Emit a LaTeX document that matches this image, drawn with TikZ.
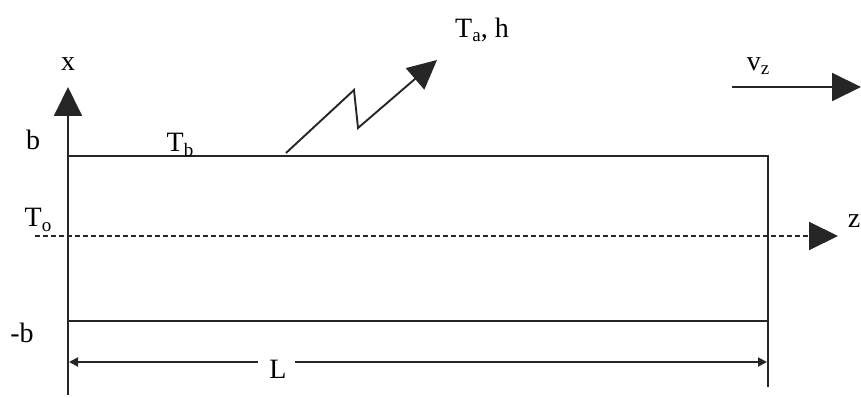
\documentclass[tikz,border=0pt]{standalone}
\usepackage{fontspec}
\setmainfont{Liberation Serif}
\usetikzlibrary{arrows.meta}
\newcommand{\lowsub}[1]{\raisebox{-0.35ex}{\fontsize{19}{19}\selectfont #1}}
\begin{document}
\begin{tikzpicture}[x=1pt,y=-1pt,
  line/.style={line width=1.9pt,black!85},
  bigtip/.style={-{Triangle[length=29pt,width=28pt]}},
  smalltip/.style={-{Triangle[length=9pt,width=9pt]}},
  lbl/.style={inner sep=0pt,font=\fontsize{28}{31}\selectfont}]
\useasboundingbox[fill=white] (0,0) rectangle (861,398);
% corners
\coordinate (tl) at (68,156);
\coordinate (tr) at (768,156);
\coordinate (bl) at (68,321);
\coordinate (br) at (768,321);
\coordinate (axbot) at (68,395);
\coordinate (axtop) at (68,87);
\coordinate (rbot) at (768,387);
% walls
\draw[line] (tl) -- (tr) -- (rbot);
\draw[line] (bl) -- (br);
\draw[line,bigtip] (axbot) -- (axtop);
% center dashed axis
\coordinate (cs) at (35,236);
\coordinate (ce) at (838,236);
\draw[line,dash pattern=on 5pt off 3pt,bigtip] (cs) -- (ce);
% heat flux zigzag
\coordinate (z0) at (286,153);
\coordinate (z1) at (354,90);
\coordinate (z2) at (358,128);
\coordinate (z3) at (437,60);
\draw[line,bigtip] (z0) -- (z1) -- (z2) -- (z3);
% velocity arrow
\coordinate (v0) at (732,87);
\coordinate (v1) at (861,87);
\draw[line,bigtip] (v0) -- (v1);
% dimension L
\node[lbl] (L) at (278,369) {L};
\coordinate (la) at (258,362);
\coordinate (lb) at (69,362);
\coordinate (ra) at (295,362);
\coordinate (rb) at (767,362);
\draw[line,smalltip] (la) -- (lb);
\draw[line,smalltip] (ra) -- (rb);
% labels
\node[lbl] (xl) at (68,64) {x};
\node[lbl] (bl1) at (33,140) {b};
\node[lbl] (mbl) at (22,333) {-b};
\node[lbl] (tol) at (38,220) {T\lowsub{o}};
\node[lbl] (tbl) at (180,145) {T\lowsub{b}};
\node[lbl] (tal) at (482,30) {T\lowsub{a}, h};
\node[lbl] (vzl) at (758,66) {v\lowsub{z}};
\node[lbl,anchor=east] (zl) at (860.5,221) {z};
\end{tikzpicture}
\end{document}
